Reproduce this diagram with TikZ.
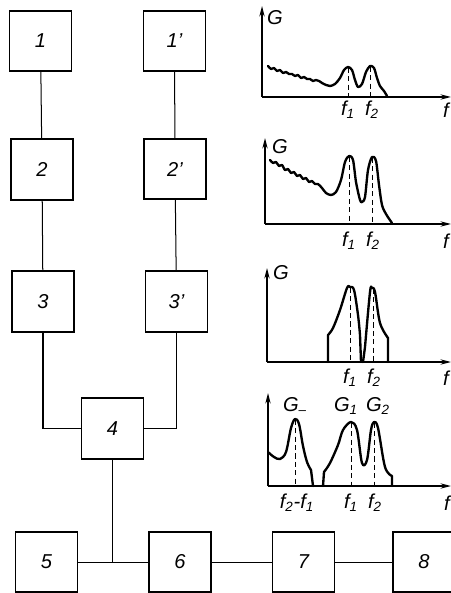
\documentclass[tikz,border=0pt]{standalone}
\usepackage{fontspec}
\setmainfont{Liberation Sans}
\usetikzlibrary{arrows.meta}
\tikzset{
  block/.style={draw,line width=1.1pt,minimum width=1.3cm,minimum height=1.27cm,
    inner sep=0pt,font=\itshape\large},
  wire/.style={draw,line width=0.6pt},
  axis/.style={draw,line width=0.9pt,-{Stealth[length=2.2mm,width=1.1mm]}},
  spectrum/.style={draw,line width=1.4pt,line join=round,line cap=round},
  marker/.style={draw,line width=0.6pt,dash pattern=on 3pt off 2pt},
  tag/.style={font=\itshape\large,inner sep=0pt}
}
\newcommand{\fsub}[1]{f\textsubscript{#1}}

\begin{document}
\begin{tikzpicture}[x=0.021cm,y=-0.021cm]
  \useasboundingbox (0,0) rectangle (450,593);
  % blocks
  \foreach \n/\x/\y/\t in {1/40.5/41/1, 1p/174.5/41/1',
      2/42/169.5/2, 2p/175/169/2', 3/43/301.5/3, 3p/176.5/301.5/3',
      4/112.5/428.5/4, 5/46.5/562/5, 6/180/562/6, 7/303.5/562/7, 8/424/562/8}
    \node[block] (b\n) at (\x,\y) {\t};
  \draw[wire] (b1)--(b2)--(b3) (b1p)--(b2p)--(b3p);
  \draw[wire] (b3.south) |- (b4.west);
  \draw[wire] (b3p.south) |- (b4.east);
  \coordinate (j) at (b4.south |- b5.east);
  \draw[wire] (b5)--(b6)--(b7)--(b8);
  \draw[wire] (b4)--(j);
  % spectrum 1
  \draw[axis] (262,97)--(262,6);
  \draw[axis] (262,97)--(451,97);
  \draw[spectrum] plot[smooth,tension=0.5] coordinates {(268,66) (271,69) (274,68)
    (277,71) (280,70) (283,73) (286,72) (289,74) (292,74) (295,76) (298,75)
    (301,78) (304,77) (307,79) (310,79) (313,81) (316,80) (319,81) (322,83)
    (326,85) (330,86) (335,84) (340,78) (344,70) (348,67) (352,70) (355,80)
    (358,87) (362,84) (366,72) (370,66) (374,68) (377,78) (380,86) (384,91) (387,96)};
  \draw[marker] (348,68)--(348,97) (370.5,67)--(370.5,97);
  \node[tag] (g1) at (275,18) {G};
  \node[tag] (g1f1) at (348,110) {\fsub{1}};
  \node[tag] (g1f2) at (372,110) {\fsub{2}};
  \node[tag] (g1f) at (446,110) {f};
  % spectrum 2
  \draw[axis] (265,224)--(265,138);
  \draw[axis] (265,224)--(451,224);
  \draw[spectrum] plot[smooth,tension=0.5] coordinates {(270,160) (273,163)
    (276,162) (279,166) (282,165) (285,170) (288,169) (291,173) (294,172)
    (297,176) (300,175) (303,179) (306,178) (309,182) (312,181) (315,184)
    (318,184) (322,188) (326,193) (331,195) (336,192) (341,180) (345,162)
    (349,156) (353,160) (356,182) (360,200) (362,202) (365,197) (368,170)
    (372,157) (376,161) (379,185) (382,205) (386,214) (392,223)};
  \draw[marker] (349,157)--(349,224) (372,158)--(372,224);
  \node[tag] (g2) at (280,147) {G};
  \node[tag] (g2f1) at (349,241) {\fsub{1}};
  \node[tag] (g2f2) at (373,241) {\fsub{2}};
  \node[tag] (g2f) at (446,241) {f};
  % spectrum 3
  \draw[axis] (267,362)--(267,268);
  \draw[axis] (267,362)--(451,362);
  \draw[spectrum] (328,362)--plot[smooth,tension=0.55] coordinates {(328,335)
    (333,328) (340,310) (347,288) (350,287) (354,290) (358,315) (360,335)}--(361,362);
  \draw[spectrum] (363,362)--plot[smooth,tension=0.55] coordinates {(365,347)
    (370,292) (372,288) (375,292) (380,323) (388,338)}--(388,362);
  \draw[marker] (350,288)--(350,362) (373,289)--(373,362);
  \node[tag] (g3) at (281,273) {G};
  \node[tag] (g3f1) at (350,378) {\fsub{1}};
  \node[tag] (g3f2) at (374,378) {\fsub{2}};
  \node[tag] (g3f) at (446,378) {f};
  % spectrum 4
  \draw[axis] (268,486)--(268,393);
  \draw[axis] (268,486)--(451,486);
  \draw[spectrum] plot[smooth,tension=0.55] coordinates {(268,452) (274,457)
    (280,459) (286,452) (291,428) (295,419) (299,424) (303,446) (307,462)
    (311,470)}--(313,486);
  \draw[spectrum] (323,486)--plot[smooth,tension=0.55] coordinates {(324,472)
    (330,463) (338,445) (343,430) (351,422) (357,430) (362,463) (367,460)
    (371,430) (374,422) (378,428) (385,467) (392,476)}--(392,486);
  \draw[marker] (295,420)--(295,486) (351,423)--(351,486) (374,423)--(374,486);
  \node[tag] (g4m) at (295,406) {G\textsubscript{--}};
  \node[tag] (g4g1) at (346,406) {G\textsubscript{1}};
  \node[tag] (g4g2) at (378,406) {G\textsubscript{2}};
  \node[tag] (g4d) at (297,503) {\fsub{2}-\fsub{1}};
  \node[tag] (g4f1) at (351,503) {\fsub{1}};
  \node[tag] (g4f2) at (375,503) {\fsub{2}};
  \node[tag] (g4f) at (447,503) {f};
\end{tikzpicture}
\end{document}
